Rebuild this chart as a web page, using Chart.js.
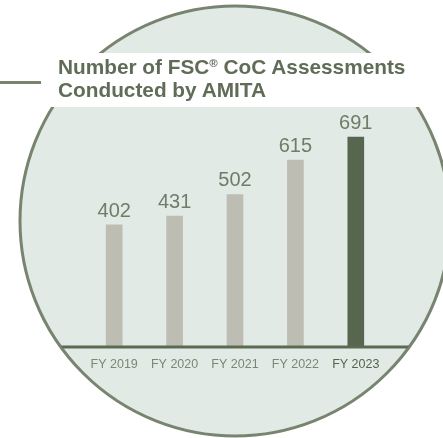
<!DOCTYPE html>
<html>
<head>
<meta charset="utf-8">
<script src="https://cdn.jsdelivr.net/npm/chart.js@4"></script>
<style>
    html, body { margin: 0; padding: 0; background: #ffffff; }
    #wrap { position: relative; width: 443px; height: 438px; overflow: hidden; }
    #myChart { position: absolute; left: 0; top: 0; }
    .title {
        position: absolute;
        left: 58px;
        top: 55px;
        font-family: "Liberation Sans", Arial, sans-serif;
        font-weight: bold;
        font-size: 20.8px;
        line-height: 23px;
        color: #5f6c57;
        white-space: nowrap;
    }
    .title sup { font-size: 0.55em; vertical-align: 0.62em; line-height: 0; }
</style>
</head>
<body>
<div id="wrap">
    <canvas id="myChart" width="443" height="438"></canvas>
    <div class="title">Number of FSC<sup>®</sup> CoC Assessments<br>Conducted by AMITA</div>
</div>
<script>
"use strict"

let years = ['FY 2019', 'FY 2020', 'FY 2021', 'FY 2022', 'FY 2023'];
let assessments = [402, 431, 502, 615, 691];
let barColors = ['#bebdb3', '#bebdb3', '#bebdb3', '#bebdb3', '#56664f'];
let tickColors = ['#7b8673', '#7b8673', '#7b8673', '#7b8673', '#56634e'];

const circle = { x: 235, y: 221, r: 215 }; // background badge

// circle, white title band and the little rule on the left
const backdrop = {
    id: 'backdrop',
    beforeDraw(chart) {
        let ctx = chart.ctx;
        ctx.save();
        ctx.beginPath();
        ctx.arc(circle.x, circle.y, circle.r, 0, Math.PI * 2);
        ctx.fillStyle = '#e2eae6';
        ctx.fill();
        ctx.lineWidth = 3;
        ctx.strokeStyle = '#78846f';
        ctx.stroke();

        ctx.fillStyle = '#ffffff';
        ctx.fillRect(0, 53, chart.width, 54);

        ctx.fillStyle = '#78846f';
        ctx.fillRect(0, 81, 41, 3);
        ctx.restore();
    }
};

// value labels above bars + baseline clipped to the circle
const barLabels = {
    id: 'barLabels',
    afterDatasetsDraw(chart) {
        let ctx = chart.ctx;
        let meta = chart.getDatasetMeta(0);
        ctx.save();
        ctx.font = '20px "Liberation Sans", Arial, sans-serif';
        ctx.fillStyle = '#6f7c67';
        ctx.textAlign = 'center';
        ctx.textBaseline = 'alphabetic';
        meta.data.forEach((bar, i) => {
            ctx.fillText(String(assessments[i]), bar.x, bar.y - 8);
        });

        let baseY = chart.scales.y.getPixelForValue(0);
        ctx.beginPath();
        ctx.arc(circle.x, circle.y, circle.r - 1, 0, Math.PI * 2);
        ctx.clip();
        ctx.fillStyle = '#5b6a53';
        ctx.fillRect(0, baseY - 1.5, chart.width, 3);
        ctx.restore();
    }
};

const data = {
    labels: years,
    datasets: [{
        data: assessments,
        backgroundColor: barColors,
        barThickness: 16,
        borderWidth: 0
    }]
};

const config = {
    type: 'bar',
    data: data,
    options: {
        responsive: false,
        animation: false,
        layout: {
            padding: { top: 110, left: 84, right: 57, bottom: 64 }
        },
        plugins: {
            legend: { display: false },
            tooltip: { enabled: false }
        },
        scales: {
            x: {
                grid: { display: false },
                border: { display: false },
                ticks: {
                    padding: 2,
                    color: tickColors,
                    font: { family: '"Liberation Sans", Arial, sans-serif', size: 12.5 }
                }
            },
            y: {
                display: false,
                min: 0,
                max: 780
            }
        }
    },
    plugins: [backdrop, barLabels]
};

let canvasChart = document.getElementById('myChart');
const myChart = new Chart(canvasChart, config);
</script>
</body>
</html>
